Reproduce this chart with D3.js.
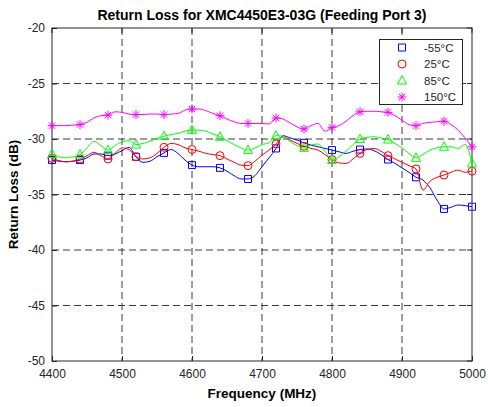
<!DOCTYPE html>
<html>
<head>
<meta charset="utf-8">
<script src="https://d3js.org/d3.v7.min.js"></script>
<title>Return Loss - Feeding Port 3</title>
</head>
<style>
body { margin: 0; background: #fff; }
svg { display: block; }
text { font-family: "Liberation Sans", Arial, sans-serif; fill: #262626; }
</style>
<body>
<svg width="488" height="407"></svg>
</body>
<script>

// frequency samples (MHz)
let freq = [4400,4410,4420,4430,4440,4450,4460,4470,4480,4490,
            4500,4510,4520,4530,4540,4550,4560,4570,4580,4590,
            4600,4610,4620,4630,4640,4650,4660,4670,4680,4690,
            4700,4710,4720,4730,4740,4750,4760,4770,4780,4790,
            4800,4810,4820,4830,4840,4850,4860,4870,4880,4890,
            4900,4910,4920,4930,4940,4950,4960,4970,4980,4990,5000];

// return loss (dB)
let rlM55 = [-31.9,-32.0,-32.05,-32.0,-31.9,-31.7,-31.35,-31.35,-31.5,-31.35,
             -31.05,-30.75,-31.6,-32.1,-32.0,-31.6,-31.25,-30.95,-31.3,-31.9,
             -32.35,-32.5,-32.5,-32.5,-32.6,-32.9,-33.3,-33.6,-33.6,-33.3,
             -32.5,-31.7,-30.85,-29.7,-29.9,-30.1,-30.35,-30.55,-30.7,-30.85,
             -31.0,-31.15,-31.3,-31.1,-30.95,-30.9,-31.05,-31.4,-31.85,-32.2,
             -32.6,-33.0,-33.45,-33.7,-34.4,-35.5,-36.3,-36.15,-35.95,-36.0,-36.1];

let rl25 = [-31.75,-31.95,-32.05,-32.0,-31.8,-31.5,-31.2,-31.5,-31.8,-31.3,
            -30.8,-30.95,-31.6,-31.8,-31.7,-31.3,-30.75,-30.4,-30.5,-30.8,
            -30.95,-31.1,-31.3,-31.4,-31.5,-31.8,-32.1,-32.35,-32.4,-32.0,
            -31.45,-31.0,-30.45,-29.8,-30.1,-30.4,-30.65,-30.85,-31.0,-31.4,
            -31.85,-32.15,-32.2,-31.8,-31.3,-30.95,-30.85,-31.1,-31.5,-31.8,
            -32.1,-32.4,-32.7,-34.6,-33.8,-33.45,-33.25,-33.0,-32.8,-33.0,-32.9];

let rl85 = [-31.35,-31.6,-31.7,-31.6,-31.4,-30.8,-30.2,-30.6,-31.0,-30.6,
            -30.25,-30.15,-30.5,-30.4,-30.2,-29.95,-29.75,-29.6,-29.5,-29.3,
            -29.2,-29.2,-29.3,-29.55,-29.8,-30.15,-30.5,-30.8,-31.0,-30.8,
            -30.5,-30.35,-29.7,-29.75,-30.2,-30.6,-30.8,-30.55,-30.45,-31.1,
            -31.9,-31.6,-31.1,-30.5,-30.0,-29.85,-29.8,-29.9,-30.05,-30.4,
            -30.8,-31.3,-31.7,-31.4,-31.0,-30.8,-30.7,-30.7,-30.85,-30.5,-32.2];

let rl150 = [-28.8,-28.8,-28.8,-28.75,-28.7,-28.5,-28.1,-27.9,-27.85,-27.55,
             -27.6,-27.75,-27.8,-27.8,-27.75,-27.75,-27.8,-27.75,-27.7,-27.4,
             -27.3,-27.3,-27.45,-27.7,-27.9,-28.2,-28.45,-28.6,-28.6,-28.6,
             -28.6,-28.65,-28.1,-28.2,-28.55,-28.9,-29.1,-28.8,-28.6,-29.3,
             -28.95,-28.8,-28.4,-27.9,-27.55,-27.5,-27.5,-27.55,-27.6,-27.9,
             -28.3,-28.7,-28.8,-28.6,-28.5,-28.45,-28.4,-28.7,-29.2,-29.9,-30.7];

let seriesNames = ["-55°C", "25°C", "85°C", "150°C"];
let seriesColors = ["#0000ff", "#ff0000", "#00ff00", "#ff00ff"];
let seriesMarkers = ["square", "circle", "triangle", "star"];
let seriesValues = [rlM55, rl25, rl85, rl150];

let xTicks = [4400,4500,4600,4700,4800,4900,5000];
let yTicks = [-50,-45,-40,-35,-30,-25,-20];

let pLeft = 52, pRight = 472, pTop = 28, pBottom = 361;

let svg = d3.select("svg");

let x = d3.scaleLinear().domain([4400, 5000]).range([pLeft, pRight]);
let y = d3.scaleLinear().domain([-50, -20]).range([pBottom, pTop]);

// grid
let grid = svg.append("g");
grid.selectAll(".vg").data(xTicks.slice(1, -1)).enter().append("line")
  .attr("x1", d => x(d)).attr("x2", d => x(d))
  .attr("y1", pTop).attr("y2", pBottom)
  .attr("stroke", "#262626").attr("stroke-width", 0.9)
  .attr("stroke-dasharray", "7,4");
grid.selectAll(".hg").data(yTicks.slice(1, -1)).enter().append("line")
  .attr("x1", pLeft).attr("x2", pRight)
  .attr("y1", d => y(d)).attr("y2", d => y(d))
  .attr("stroke", "#262626").attr("stroke-width", 0.9)
  .attr("stroke-dasharray", "7,4");

// axes (plain hyphen for negatives, like the original)
let xAxis = d3.axisBottom(x).tickValues(xTicks).tickSize(-5).tickPadding(8).tickFormat(d => String(d));
let yAxis = d3.axisLeft(y).tickValues(yTicks).tickSize(-5).tickPadding(7).tickFormat(d => String(d));

let gx = svg.append("g").attr("transform", "translate(0," + pBottom + ")").call(xAxis);
let gy = svg.append("g").attr("transform", "translate(" + pLeft + ",0)").call(yAxis);
[gx, gy].forEach(function(g) {
  g.select(".domain").remove();
  g.selectAll("line").attr("stroke", "#262626");
  g.selectAll("text").attr("font-size", "12px").attr("fill", "#262626")
    .attr("font-family", "'Liberation Sans', Arial, sans-serif");
});

// top/right ticks
svg.append("g").selectAll("line").data(xTicks).enter().append("line")
  .attr("x1", d => x(d)).attr("x2", d => x(d)).attr("y1", pTop).attr("y2", pTop + 5)
  .attr("stroke", "#262626");
svg.append("g").selectAll("line").data(yTicks).enter().append("line")
  .attr("x1", pRight - 5).attr("x2", pRight).attr("y1", d => y(d)).attr("y2", d => y(d))
  .attr("stroke", "#262626");

// box
svg.append("rect")
  .attr("x", pLeft).attr("y", pTop)
  .attr("width", pRight - pLeft).attr("height", pBottom - pTop)
  .attr("fill", "none").attr("stroke", "#262626").attr("stroke-width", 1);

function markerPath(type) {
  if (type == "square") return "M-3.5,-3.5H3.5V3.5H-3.5Z";
  if (type == "circle") return "M4,0A4,4 0 1,1 -4,0A4,4 0 1,1 4,0Z";
  if (type == "triangle") return "M0,-5L4.5,3.5H-4.5Z";
  return "M0,-4.5V4.5M-4.5,0H4.5M-3.2,-3.2L3.2,3.2M-3.2,3.2L3.2,-3.2";
}

let line = d3.line()
  .x(d => x(d[0]))
  .y(d => y(d[1]))
  .curve(d3.curveMonotoneX);

seriesValues.forEach(function(vals, i) {
  let pts = freq.map((f, j) => [f, vals[j]]);
  svg.append("path")
    .datum(pts)
    .attr("d", line)
    .attr("fill", "none")
    .attr("stroke", seriesColors[i])
    .attr("stroke-width", 1);

  let marks = pts.filter(d => (d[0] - 4400) % 40 == 0);
  svg.append("g").selectAll("path").data(marks).enter().append("path")
    .attr("transform", d => "translate(" + x(d[0]) + "," + y(d[1]) + ")")
    .attr("d", markerPath(seriesMarkers[i]))
    .attr("fill", "none")
    .attr("stroke", seriesColors[i])
    .attr("stroke-width", 1);
});

// legend
let legend = svg.append("g");
legend.append("rect")
  .attr("x", 379.5).attr("y", 39.5).attr("width", 83).attr("height", 65)
  .attr("fill", "#fff").attr("stroke", "#262626").attr("stroke-width", 1);
seriesNames.forEach(function(name, i) {
  let ly = 47.5 + i * 16.5;
  legend.append("path")
    .attr("transform", "translate(402," + ly + ")")
    .attr("d", markerPath(seriesMarkers[i]))
    .attr("fill", "none").attr("stroke", seriesColors[i]).attr("stroke-width", 1);
  legend.append("text")
    .attr("x", 424).attr("y", ly + 4)
    .attr("font-size", "11.5px")
    .text(name);
});

// titles
svg.append("text")
  .attr("x", (pLeft + pRight) / 2).attr("y", 20)
  .attr("text-anchor", "middle")
  .attr("font-size", "14px").attr("font-weight", "bold").style("fill", "#000")
  .text("Return Loss for XMC4450E3-03G (Feeding Port 3)");

svg.append("text")
  .attr("x", (pLeft + pRight) / 2).attr("y", 398)
  .attr("text-anchor", "middle")
  .attr("font-size", "13.5px").attr("font-weight", "bold").style("fill", "#000")
  .text("Frequency (MHz)");

svg.append("text")
  .attr("transform", "translate(18," + (pTop + pBottom) / 2 + ") rotate(-90)")
  .attr("text-anchor", "middle")
  .attr("font-size", "13.5px").attr("font-weight", "bold").style("fill", "#000")
  .text("Return Loss (dB)");

</script>
</html>
